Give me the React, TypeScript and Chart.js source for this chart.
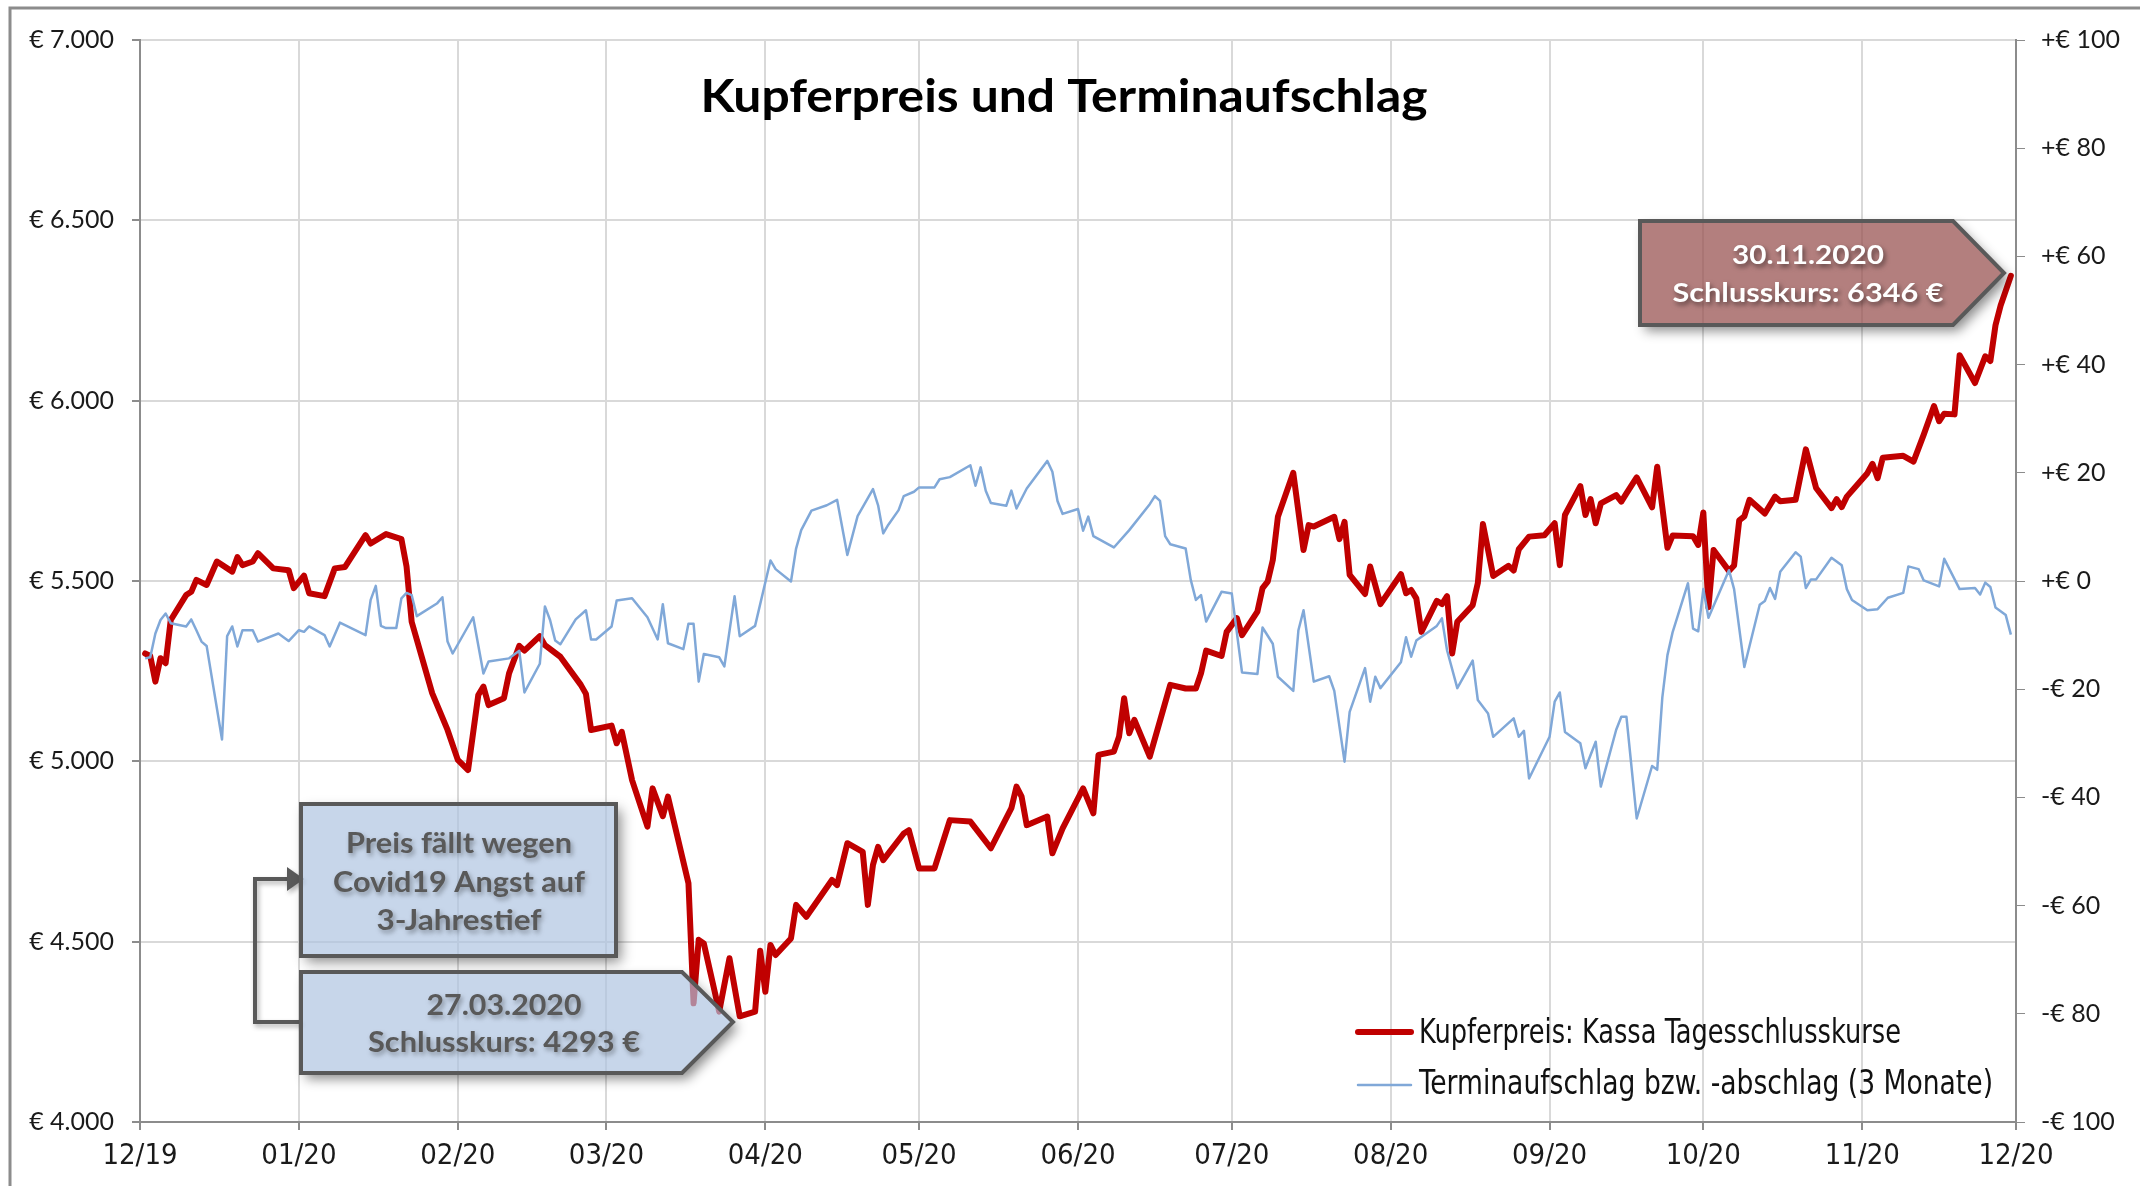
import React, { useEffect, useRef } from "react";
import { Chart, registerables } from "chart.js";

Chart.register(...registerables);

// ---------- DATA ----------
const copperDates = [
  "2019-12-02","2019-12-03","2019-12-04","2019-12-05","2019-12-06","2019-12-07","2019-12-10","2019-12-11","2019-12-12","2019-12-14",
  "2019-12-16","2019-12-19","2019-12-20","2019-12-21","2019-12-23","2019-12-24","2019-12-27","2019-12-30","2019-12-31","2020-01-02",
  "2020-01-03","2020-01-06","2020-01-08","2020-01-10","2020-01-14","2020-01-15","2020-01-18","2020-01-21","2020-01-22","2020-01-23",
  "2020-01-27","2020-01-30","2020-02-01","2020-02-03","2020-02-05","2020-02-06","2020-02-07","2020-02-10","2020-02-11","2020-02-13",
  "2020-02-14","2020-02-17","2020-02-18","2020-02-21","2020-02-25","2020-02-26","2020-02-27","2020-03-02","2020-03-03","2020-03-04",
  "2020-03-06","2020-03-09","2020-03-10","2020-03-12","2020-03-13","2020-03-17","2020-03-18","2020-03-19","2020-03-20","2020-03-23",
  "2020-03-25","2020-03-27","2020-03-30","2020-03-31","2020-04-01","2020-04-02","2020-04-03","2020-04-06","2020-04-07","2020-04-09",
  "2020-04-14","2020-04-15","2020-04-17","2020-04-20","2020-04-21","2020-04-22","2020-04-23","2020-04-24","2020-04-28","2020-04-29",
  "2020-05-01","2020-05-04","2020-05-07","2020-05-11","2020-05-13","2020-05-15","2020-05-19","2020-05-20","2020-05-21","2020-05-22",
  "2020-05-26","2020-05-27","2020-05-29","2020-06-02","2020-06-04","2020-06-05","2020-06-08","2020-06-09","2020-06-10","2020-06-11",
  "2020-06-12","2020-06-15","2020-06-19","2020-06-22","2020-06-24","2020-06-25","2020-06-26","2020-06-29","2020-06-30","2020-07-02",
  "2020-07-03","2020-07-06","2020-07-07","2020-07-08","2020-07-09","2020-07-10","2020-07-13","2020-07-15","2020-07-16","2020-07-17",
  "2020-07-21","2020-07-22","2020-07-23","2020-07-24","2020-07-27","2020-07-28","2020-07-30","2020-08-03","2020-08-04","2020-08-05",
  "2020-08-06","2020-08-07","2020-08-10","2020-08-11","2020-08-12","2020-08-13","2020-08-14","2020-08-17","2020-08-18","2020-08-19",
  "2020-08-21","2020-08-24","2020-08-25","2020-08-26","2020-08-28","2020-08-31","2020-09-02","2020-09-03","2020-09-04","2020-09-07",
  "2020-09-08","2020-09-09","2020-09-10","2020-09-11","2020-09-14","2020-09-15","2020-09-16","2020-09-18","2020-09-21","2020-09-22",
  "2020-09-24","2020-09-25","2020-09-29","2020-09-30","2020-10-01","2020-10-02","2020-10-03","2020-10-06","2020-10-07","2020-10-08",
  "2020-10-09","2020-10-10","2020-10-13","2020-10-15","2020-10-16","2020-10-19","2020-10-21","2020-10-23","2020-10-26","2020-10-27",
  "2020-10-28","2020-10-29","2020-11-02","2020-11-03","2020-11-04","2020-11-05","2020-11-09","2020-11-11","2020-11-13","2020-11-15",
  "2020-11-16","2020-11-17","2020-11-19","2020-11-20","2020-11-23","2020-11-25","2020-11-26","2020-11-27","2020-11-28","2020-11-30"
];
const copperPrice = [
  5299,5292,5221,5286,5272,5392,5461,5470,5503,5489,
  5554,5526,5566,5544,5554,5577,5535,5530,5480,5515,
  5466,5458,5535,5539,5627,5604,5630,5616,5540,5387,
  5189,5087,5004,4976,5184,5207,5156,5175,5244,5320,
  5307,5347,5322,5290,5212,5187,5087,5099,5050,5082,
  4948,4819,4925,4848,4902,4662,4329,4505,4495,4306,
  4454,4293,4306,4475,4361,4491,4463,4509,4602,4569,
  4671,4657,4773,4749,4602,4713,4763,4726,4800,4809,
  4703,4703,4837,4833,4796,4759,4870,4930,4902,4823,
  4847,4745,4814,4925,4856,5018,5027,5068,5175,5078,
  5115,5013,5212,5202,5202,5244,5307,5292,5359,5397,
  5350,5415,5480,5498,5558,5678,5800,5586,5655,5651,
  5678,5616,5664,5517,5464,5540,5436,5519,5466,5475,
  5452,5359,5445,5436,5458,5299,5387,5433,5494,5658,
  5514,5542,5529,5588,5623,5627,5660,5544,5683,5763,
  5683,5727,5660,5715,5738,5720,5743,5787,5704,5817,
  5592,5626,5624,5600,5690,5427,5586,5528,5543,5668,
  5679,5725,5687,5734,5721,5725,5865,5758,5702,5727,
  5705,5734,5799,5825,5785,5842,5847,5831,5906,5985,
  5943,5964,5962,6126,6049,6123,6110,6209,6264,6346
];

const premiumDates = [
  "2019-12-02","2019-12-03","2019-12-04","2019-12-05","2019-12-06","2019-12-07","2019-12-10","2019-12-11","2019-12-12","2019-12-13",
  "2019-12-14","2019-12-17","2019-12-18","2019-12-19","2019-12-20","2019-12-21","2019-12-23","2019-12-24","2019-12-28","2019-12-30",
  "2020-01-01","2020-01-02","2020-01-03","2020-01-06","2020-01-07","2020-01-09","2020-01-14","2020-01-15","2020-01-16","2020-01-17",
  "2020-01-18","2020-01-20","2020-01-21","2020-01-22","2020-01-23","2020-01-24","2020-01-28","2020-01-29","2020-01-30","2020-01-31",
  "2020-02-04","2020-02-06","2020-02-07","2020-02-11","2020-02-13","2020-02-14","2020-02-17","2020-02-18","2020-02-19","2020-02-20",
  "2020-02-21","2020-02-24","2020-02-26","2020-02-27","2020-02-28","2020-03-02","2020-03-03","2020-03-06","2020-03-09","2020-03-11",
  "2020-03-12","2020-03-13","2020-03-16","2020-03-17","2020-03-18","2020-03-19","2020-03-20","2020-03-23","2020-03-24","2020-03-26",
  "2020-03-27","2020-03-30","2020-04-02","2020-04-03","2020-04-06","2020-04-07","2020-04-08","2020-04-10","2020-04-13","2020-04-15",
  "2020-04-17","2020-04-19","2020-04-22","2020-04-23","2020-04-24","2020-04-25","2020-04-27","2020-04-28","2020-04-30","2020-05-01",
  "2020-05-04","2020-05-05","2020-05-07","2020-05-11","2020-05-12","2020-05-13","2020-05-14","2020-05-15","2020-05-18","2020-05-19",
  "2020-05-20","2020-05-22","2020-05-26","2020-05-27","2020-05-28","2020-05-29","2020-06-01","2020-06-02","2020-06-03","2020-06-04",
  "2020-06-08","2020-06-11","2020-06-15","2020-06-16","2020-06-17","2020-06-18","2020-06-19","2020-06-22","2020-06-23","2020-06-24",
  "2020-06-25","2020-06-26","2020-06-29","2020-07-01","2020-07-03","2020-07-06","2020-07-07","2020-07-09","2020-07-10","2020-07-13",
  "2020-07-14","2020-07-15","2020-07-17","2020-07-20","2020-07-21","2020-07-23","2020-07-24","2020-07-27","2020-07-28","2020-07-29",
  "2020-07-30","2020-08-03","2020-08-04","2020-08-05","2020-08-06","2020-08-10","2020-08-11","2020-08-12","2020-08-14","2020-08-17",
  "2020-08-18","2020-08-20","2020-08-21","2020-08-25","2020-08-26","2020-08-27","2020-08-28","2020-09-01","2020-09-02","2020-09-03",
  "2020-09-04","2020-09-07","2020-09-08","2020-09-10","2020-09-11","2020-09-14","2020-09-15","2020-09-16","2020-09-18","2020-09-21",
  "2020-09-22","2020-09-23","2020-09-24","2020-09-25","2020-09-28","2020-09-29","2020-09-30","2020-10-01","2020-10-02","2020-10-06",
  "2020-10-07","2020-10-09","2020-10-12","2020-10-13","2020-10-14","2020-10-15","2020-10-16","2020-10-19","2020-10-20","2020-10-21",
  "2020-10-22","2020-10-23","2020-10-26","2020-10-28","2020-10-29","2020-10-30","2020-11-02","2020-11-04","2020-11-06","2020-11-09",
  "2020-11-10","2020-11-12","2020-11-13","2020-11-16","2020-11-17","2020-11-20","2020-11-23","2020-11-24","2020-11-25","2020-11-26",
  "2020-11-27","2020-11-29","2020-11-30"
];
const premiumValues = [
  -14.3,-14.1,-9.7,-7.2,-6.0,-7.8,-8.4,-7.1,-9.1,-11.2,
  -12.0,-29.3,-10.2,-8.4,-12.1,-9.1,-9.1,-11.2,-9.7,-11.1,
  -9.1,-9.4,-8.4,-10.0,-12.1,-7.7,-10.0,-3.5,-0.9,-8.3,
  -8.7,-8.7,-3.2,-2.2,-2.6,-6.5,-4.1,-3.0,-11.2,-13.4,
  -6.7,-17.1,-14.9,-14.3,-12.9,-20.6,-15.3,-4.7,-7.2,-11.0,
  -11.7,-7.1,-5.4,-10.8,-10.8,-8.4,-3.6,-3.2,-6.7,-10.8,
  -4.3,-11.5,-12.6,-7.9,-7.9,-18.6,-13.5,-14.1,-15.8,-2.8,
  -10.2,-8.3,3.8,2.2,-0.1,6.0,9.4,13.0,14.0,15.0,
  4.8,12.0,17.0,14.0,8.8,10.4,13.1,15.7,16.5,17.3,
  17.3,18.8,19.2,21.4,17.6,21.0,16.7,14.4,13.9,16.7,
  13.4,17.1,22.2,20.2,14.8,12.4,13.3,9.3,11.9,8.3,
  6.2,9.4,14.2,15.7,14.8,8.3,6.8,6.0,0.2,-3.5,
  -2.6,-7.5,-2.0,-2.3,-16.9,-17.2,-8.6,-11.6,-17.7,-20.3,
  -9.1,-5.4,-18.6,-17.6,-20.3,-33.4,-24.2,-16.1,-22.3,-17.7,
  -19.8,-15.0,-10.4,-14.0,-11.0,-8.3,-6.9,-12.8,-19.8,-14.7,
  -22.0,-24.5,-28.8,-25.4,-28.8,-27.7,-36.5,-28.8,-22.3,-20.6,
  -27.9,-30.0,-34.6,-29.7,-38.0,-27.5,-25.1,-25.1,-43.9,-34.2,
  -34.9,-21.5,-13.7,-9.5,-0.4,-8.8,-9.3,-1.5,-6.8,2.0,
  -1.5,-15.9,-4.4,-3.7,-1.3,-3.3,1.7,5.3,4.5,-1.3,
  0.3,0.3,4.3,2.9,-1.5,-3.5,-5.4,-5.2,-3.1,-2.2,
  2.7,2.2,0.1,-1.0,4.1,-1.5,-1.3,-2.5,-0.3,-1.1,
  -4.9,-6.3,-9.9
];

const axisStartDate = "2019-12-01";
const axisEndDate = "2020-12-01";
const monthTickDates = [
  "2019-12-01","2020-01-01","2020-02-01","2020-03-01","2020-04-01","2020-05-01","2020-06-01",
  "2020-07-01","2020-08-01","2020-09-01","2020-10-01","2020-11-01","2020-12-01"
];
const monthTickLabels = ["12/19","01/20","02/20","03/20","04/20","05/20","06/20","07/20","08/20","09/20","10/20","11/20","12/20"];
const priceTicks = [4000, 4500, 5000, 5500, 6000, 6500, 7000];
const priceTickLabels = ["€ 4.000","€ 4.500","€ 5.000","€ 5.500","€ 6.000","€ 6.500","€ 7.000"];
const premiumTicks = [-100, -80, -60, -40, -20, 0, 20, 40, 60, 80, 100];
const premiumTickLabels = ["-€ 100","-€ 80","-€ 60","-€ 40","-€ 20","+€ 0","+€ 20","+€ 40","+€ 60","+€ 80","+€ 100"];

const chartTitle = "Kupferpreis und Terminaufschlag";
const seriesNames = ["Kupferpreis: Kassa Tagesschlusskurse", "Terminaufschlag bzw. -abschlag (3 Monate)"];
const noteCrash = ["Preis fällt wegen", "Covid19 Angst auf", "3-Jahrestief"];
const noteLow = ["27.03.2020", "Schlusskurs: 4293 €"];
const noteLast = ["30.11.2020", "Schlusskurs: 6346 €"];

// ---------- HELPERS ----------
const dayIndex = (iso: string) => {
  const [y, m, d] = iso.split("-").map(Number);
  const [y0, m0, d0] = axisStartDate.split("-").map(Number);
  return (Date.UTC(y, m - 1, d) - Date.UTC(y0, m0 - 1, d0)) / 86400000;
};

const NARROW = '"Liberation Sans Narrow", "DejaVu Sans Condensed", "Roboto", sans-serif';
const SANS = 'Lato, "Open Sans", sans-serif';

function fitText(ctx: CanvasRenderingContext2D, text: string, x: number, baseline: number, font: string, width: number, align: CanvasTextAlign) {
  ctx.font = font;
  const w = ctx.measureText(text).width;
  const s = width / w;
  ctx.save();
  ctx.translate(x, baseline);
  ctx.scale(s, 1);
  ctx.textAlign = align;
  ctx.textBaseline = "alphabetic";
  ctx.fillText(text, 0, 0);
  ctx.restore();
}

function shapePath(ctx: CanvasRenderingContext2D, pts: number[][]) {
  ctx.beginPath();
  ctx.moveTo(pts[0][0], pts[0][1]);
  for (let i = 1; i < pts.length; i++) ctx.lineTo(pts[i][0], pts[i][1]);
  ctx.closePath();
}

function drawCallout(ctx: CanvasRenderingContext2D, pts: number[][], fill: string, W: number, H: number) {
  ctx.save();
  ctx.beginPath();
  ctx.rect(0, 0, W, H);
  ctx.moveTo(pts[0][0], pts[0][1]);
  for (let i = 1; i < pts.length; i++) ctx.lineTo(pts[i][0], pts[i][1]);
  ctx.closePath();
  ctx.clip("evenodd");
  shapePath(ctx, pts);
  ctx.shadowColor = "rgba(0,0,0,0.45)";
  ctx.shadowBlur = 12;
  ctx.shadowOffsetX = 5;
  ctx.shadowOffsetY = 6;
  ctx.fillStyle = "#777";
  ctx.fill();
  ctx.restore();

  ctx.save();
  shapePath(ctx, pts);
  ctx.fillStyle = fill;
  ctx.fill();
  ctx.lineWidth = 4;
  ctx.strokeStyle = "#595959";
  ctx.lineJoin = "miter";
  ctx.stroke();
  ctx.restore();
}

const decorations = {
  id: "decorations",
  afterDatasetsDraw(chart: any) {
    const ctx: CanvasRenderingContext2D = chart.ctx;
    const W = chart.width;
    const H = chart.height;

    // title
    ctx.save();
    ctx.fillStyle = "#000";
    fitText(ctx, chartTitle, 1064, 112, `bold 46px ${SANS}`, 727, "center");
    ctx.restore();

    // legend
    ctx.save();
    ctx.lineCap = "round";
    ctx.strokeStyle = "#c00000";
    ctx.lineWidth = 6;
    ctx.beginPath(); ctx.moveTo(1358, 1032); ctx.lineTo(1411, 1032); ctx.stroke();
    ctx.strokeStyle = "#80a8d8";
    ctx.lineWidth = 2.5;
    ctx.beginPath(); ctx.moveTo(1358, 1085); ctx.lineTo(1411, 1085); ctx.stroke();
    ctx.fillStyle = "#111";
    fitText(ctx, seriesNames[0], 1419, 1043, `33px ${NARROW}`, 482, "left");
    fitText(ctx, seriesNames[1], 1419, 1094, `33px ${NARROW}`, 574, "left");
    ctx.restore();

    // connector arrow between the two blue notes
    ctx.save();
    ctx.strokeStyle = "#595959";
    ctx.lineWidth = 4;
    ctx.shadowColor = "rgba(0,0,0,0.3)";
    ctx.shadowBlur = 5;
    ctx.shadowOffsetX = 2;
    ctx.shadowOffsetY = 3;
    ctx.beginPath();
    ctx.moveTo(301, 1022);
    ctx.lineTo(255, 1022);
    ctx.lineTo(255, 879);
    ctx.lineTo(290, 879);
    ctx.stroke();
    ctx.fillStyle = "#595959";
    ctx.beginPath();
    ctx.moveTo(304, 879);
    ctx.lineTo(287, 867);
    ctx.lineTo(287, 891);
    ctx.closePath();
    ctx.fill();
    ctx.restore();

    // blue notes
    const blueFill = "rgba(172,195,224,0.68)";
    drawCallout(ctx, [[301, 804], [616, 804], [616, 956], [301, 956]], blueFill, W, H);
    drawCallout(ctx, [[301, 972], [682, 972], [733, 1022], [682, 1073], [301, 1073]], blueFill, W, H);

    // red note
    drawCallout(ctx, [[1640, 221], [1953, 221], [2004, 273], [1953, 325], [1640, 325]], "rgba(150,78,76,0.72)", W, H);

    // note texts
    ctx.save();
    ctx.shadowColor = "rgba(0,0,0,0.35)";
    ctx.shadowBlur = 5;
    ctx.shadowOffsetX = 2;
    ctx.shadowOffsetY = 3;
    ctx.fillStyle = "#595959";
    const f29 = `bold 29px ${SANS}`;
    fitText(ctx, noteCrash[0], 459, 853, f29, 226, "center");
    fitText(ctx, noteCrash[1], 459, 892, f29, 252, "center");
    fitText(ctx, noteCrash[2], 459, 930, f29, 165, "center");
    fitText(ctx, noteLow[0], 504, 1015, f29, 155, "center");
    fitText(ctx, noteLow[1], 504, 1052, f29, 272, "center");
    ctx.shadowColor = "rgba(0,0,0,0.5)";
    ctx.fillStyle = "#ffffff";
    const f27 = `bold 27px ${SANS}`;
    fitText(ctx, noteLast[0], 1808, 264, f27, 152, "center");
    fitText(ctx, noteLast[1], 1808, 302, f27, 271, "center");
    ctx.restore();

    // outer frame
    ctx.save();
    ctx.strokeStyle = "#8c8c8c";
    ctx.lineWidth = 3;
    ctx.beginPath();
    ctx.moveTo(10, H);
    ctx.lineTo(10, 8);
    ctx.lineTo(W, 8);
    ctx.stroke();
    ctx.restore();
  },
};

export default function App() {
  const canvasRef = useRef<HTMLCanvasElement | null>(null);

  useEffect(() => {
    const canvas = canvasRef.current;
    if (!canvas) return;
    const monthDays = monthTickDates.map(dayIndex);
    const chart = new Chart(canvas, {
      type: "line",
      data: {
        datasets: [
          {
            label: seriesNames[0],
            data: copperDates.map((d, i) => ({ x: dayIndex(d), y: copperPrice[i] })),
            yAxisID: "y",
            borderColor: "#c00000",
            borderWidth: 6,
            pointRadius: 0,
            tension: 0,
            borderJoinStyle: "round",
            borderCapStyle: "round",
            order: 1,
          },
          {
            label: seriesNames[1],
            data: premiumDates.map((d, i) => ({ x: dayIndex(d), y: premiumValues[i] })),
            yAxisID: "y1",
            borderColor: "#80a8d8",
            borderWidth: 2.5,
            pointRadius: 0,
            tension: 0,
            borderJoinStyle: "round",
            order: 0,
          },
        ],
      },
      options: {
        responsive: false,
        animation: false,
        devicePixelRatio: 1,
        layout: { padding: { top: 40, left: 0, right: 0, bottom: 0 } },
        plugins: { legend: { display: false }, tooltip: { enabled: false }, title: { display: false } },
        scales: {
          x: {
            type: "linear",
            min: dayIndex(axisStartDate),
            max: dayIndex(axisEndDate),
            afterBuildTicks: (scale: any) => {
              scale.ticks = monthDays.map((v) => ({ value: v }));
            },
            afterFit: (scale: any) => {
              scale.height = 64;
            },
            ticks: {
              autoSkip: false,
              maxRotation: 0,
              padding: 9,
              color: "#1a1a1a",
              font: { family: NARROW, size: 29 },
              callback: (_v: any, i: number) => monthTickLabels[i],
            },
            grid: { color: "#d9d9d9", lineWidth: 2, tickColor: "#8c8c8c", tickLength: 8 },
            border: { color: "#8c8c8c", width: 2 },
          },
          y: {
            type: "linear",
            position: "left",
            min: priceTicks[0],
            max: priceTicks[priceTicks.length - 1],
            afterBuildTicks: (scale: any) => {
              scale.ticks = priceTicks.map((v) => ({ value: v }));
            },
            afterFit: (scale: any) => {
              scale.width = 140;
            },
            ticks: {
              padding: 18,
              color: "#1a1a1a",
              font: { family: SANS, size: 25 },
              callback: (_v: any, i: number) => priceTickLabels[i],
            },
            grid: { color: "#d9d9d9", lineWidth: 2, tickColor: "#8c8c8c", tickLength: 8 },
            border: { color: "#8c8c8c", width: 2 },
          },
          y1: {
            type: "linear",
            position: "right",
            min: premiumTicks[0],
            max: premiumTicks[premiumTicks.length - 1],
            afterBuildTicks: (scale: any) => {
              scale.ticks = premiumTicks.map((v) => ({ value: v }));
            },
            afterFit: (scale: any) => {
              scale.width = 124;
            },
            ticks: {
              padding: 16,
              color: "#1a1a1a",
              font: { family: SANS, size: 25 },
              callback: (_v: any, i: number) => premiumTickLabels[i],
            },
            grid: { drawOnChartArea: false, tickColor: "#8c8c8c", tickLength: 9 },
            border: { color: "#8c8c8c", width: 2 },
          },
        },
      },
      plugins: [decorations],
    } as any);
    return () => chart.destroy();
  }, []);

  return (
    <div style={{ position: "absolute", left: 0, top: 0, width: 2140, height: 1186, background: "#fff" }}>
      <canvas ref={canvasRef} width={2140} height={1186} style={{ display: "block", width: 2140, height: 1186 }} />
    </div>
  );
}
